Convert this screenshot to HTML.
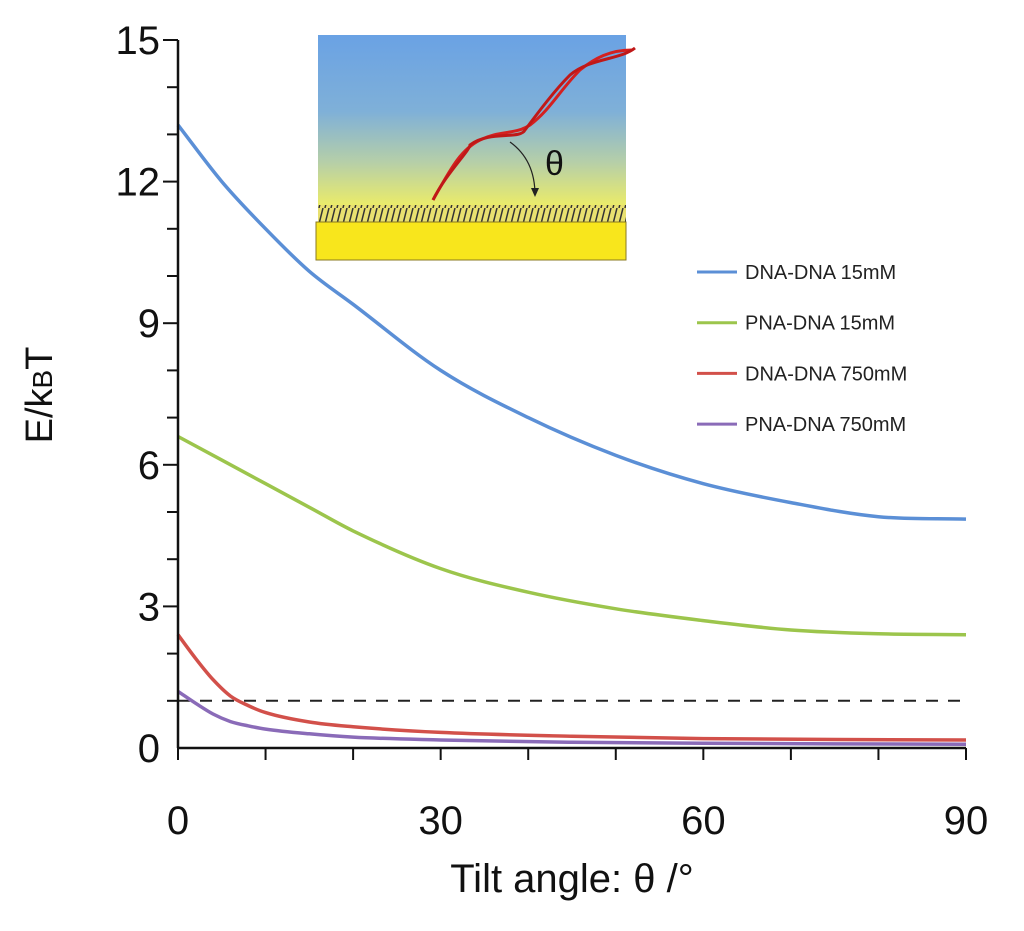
<!DOCTYPE html>
<html><head><meta charset="utf-8"><style>
body{margin:0;background:#fff}
svg{display:block;font-family:"Liberation Sans",sans-serif}
</style></head><body>
<svg id="chart" width="1024" height="931" viewBox="0 0 1024 931">
<defs>
<linearGradient id="sky" x1="0" y1="0" x2="0" y2="1">
<stop offset="0" stop-color="#6aa2e4"/><stop offset="0.45" stop-color="#7fb0d8"/><stop offset="0.75" stop-color="#b6cfa8"/><stop offset="1" stop-color="#eaeb6a"/></linearGradient>
<pattern id="hatch" width="6" height="16" patternUnits="userSpaceOnUse"><rect width="6" height="16" fill="#e8e070"/><line x1="1" y1="16" x2="5" y2="0" stroke="#333" stroke-width="1.5"/></pattern>
</defs>
<g id="plot"></g>
<g>
<rect x="318" y="35" width="308" height="170" fill="url(#sky)"/>
<rect x="318" y="205" width="308" height="17" fill="url(#hatch)"/>
<rect x="316" y="222" width="310" height="38" fill="#f8e61c" stroke="#8a7a20" stroke-width="1"/>
<path d="M433,200 C450,170 460,150 480,140 C500,130 515,135 530,125 C550,110 560,90 580,70 C595,58 610,50 632,50" fill="none" stroke="#d42020" stroke-width="3"/>
<path d="M433,200 C445,175 470,150 470,145 C490,130 520,140 525,130 C540,110 555,90 570,75 C590,58 620,60 635,48" fill="none" stroke="#c01818" stroke-width="3"/>
<path d="M510,142 Q535,160 535,195" fill="none" stroke="#222" stroke-width="1.2"/>
<path d="M531,188 L535,197 L539,188 Z" fill="#222"/>
<text x="545" y="175" font-size="34" fill="#111">θ</text>
</g>
<text transform="translate(52,395) rotate(-90)" text-anchor="middle" font-size="38" fill="#111">E/k<tspan font-size="28">B</tspan>T</text>
<text x="572" y="892" text-anchor="middle" font-size="40" fill="#111">Tilt angle: θ /°</text>
</svg>
<script>
const xTicks=[0,30,60,90];
const yTicks=[0,3,6,9,12,15];
const seriesNames=["DNA-DNA 15mM","PNA-DNA 15mM","DNA-DNA 750mM","PNA-DNA 750mM"];
const seriesColors=["#5b8fd6","#9cc54c","#d2504a","#8a6bb8"];
const blueX=[0,5,10,15,20,30,40,50,60,70,80,90];
const blueY=[13.2,12.0,11.0,10.1,9.4,8.0,7.0,6.2,5.6,5.2,4.9,4.85];
const greenX=[0,5,10,15,20,30,40,50,60,70,80,90];
const greenY=[6.6,6.1,5.6,5.1,4.6,3.8,3.3,2.95,2.7,2.5,2.42,2.4];
const redX=[0,2,4,6,8,10,15,20,30,45,60,90];
const redY=[2.4,1.9,1.45,1.1,0.9,0.75,0.55,0.45,0.33,0.25,0.2,0.17];
const purpleX=[0,2,4,6,8,10,15,20,30,45,60,90];
const purpleY=[1.2,0.95,0.72,0.56,0.47,0.4,0.3,0.23,0.17,0.12,0.1,0.08];
const dashedLevel=1;
const NS="http://www.w3.org/2000/svg";
const sx=v=>178+v*(966-178)/90;
const sy=v=>748-v*(748-40)/15;
const g=document.getElementById('plot');
function mk(t,a){const e=document.createElementNS(NS,t);for(const k in a)e.setAttribute(k,a[k]);g.appendChild(e);return e;}
function smooth(X,Y){
 const P=X.map((x,i)=>[sx(x),sy(Y[i])]);const n=P.length;
 const m=[];const dd=[];
 for(let i=0;i<n-1;i++)dd.push((P[i+1][1]-P[i][1])/(P[i+1][0]-P[i][0]));
 m[0]=dd[0];m[n-1]=dd[n-2];
 for(let i=1;i<n-1;i++)m[i]=dd[i-1]*dd[i]<=0?0:(dd[i-1]+dd[i])/2;
 let p='M'+P[0][0].toFixed(1)+','+P[0][1].toFixed(1);
 for(let i=0;i<n-1;i++){const h=(P[i+1][0]-P[i][0])/3;
  p+='C'+(P[i][0]+h).toFixed(1)+','+(P[i][1]+m[i]*h).toFixed(1)+' '+(P[i+1][0]-h).toFixed(1)+','+(P[i+1][1]-m[i+1]*h).toFixed(1)+' '+P[i+1][0].toFixed(1)+','+P[i+1][1].toFixed(1);}
 return p;
}
let d=mk('line',{x1:sx(0),x2:sx(90),y1:sy(dashedLevel),y2:sy(dashedLevel),stroke:'#222','stroke-width':2,'stroke-dasharray':'12,10'});


const xs=[blueX,greenX,redX,purpleX],ys=[blueY,greenY,redY,purpleY];
const keys=['series-dna-dna-15mm','series-pna-dna-15mm','series-dna-dna-750mm','series-pna-dna-750mm'];
for(let s=3;s>=0;s--){
 const e=mk('path',{d:smooth(xs[s],ys[s]),fill:'none',stroke:seriesColors[s],'stroke-width':3.5,'stroke-linejoin':'round'});
 
 
}
let ax=mk('line',{x1:sx(0),x2:sx(0),y1:sy(15),y2:sy(0),stroke:'#111','stroke-width':2.5});


ax=mk('line',{x1:sx(0),x2:sx(90),y1:sy(0),y2:sy(0),stroke:'#111','stroke-width':2.5});


for(let v=1;v<=15;v++){const major=v%3===0;mk('line',{x1:sx(0)-(major?15:11),x2:sx(0),y1:sy(v),y2:sy(v),stroke:'#111','stroke-width':2});}
for(let v=0;v<=90;v+=10){mk('line',{x1:sx(v),x2:sx(v),y1:sy(0),y2:sy(0)+12,stroke:'#111','stroke-width':2});}
yTicks.forEach(v=>{const t=mk('text',{x:160,y:sy(v)+14,'text-anchor':'end','font-size':40,fill:'#111'});t.textContent=v;

});
xTicks.forEach(v=>{const t=mk('text',{x:sx(v),y:834,'text-anchor':'middle','font-size':40,fill:'#111'});t.textContent=v;

});
seriesNames.forEach((n,i)=>{const y=272+i*50.7;
 const l=mk('line',{x1:697,x2:737,y1:y,y2:y,stroke:seriesColors[i],'stroke-width':3});
 
 
 const t=mk('text',{x:745,y:y+7,'font-size':20,fill:'#222'});t.textContent=n;
 
 
});
</script>
</body></html>
